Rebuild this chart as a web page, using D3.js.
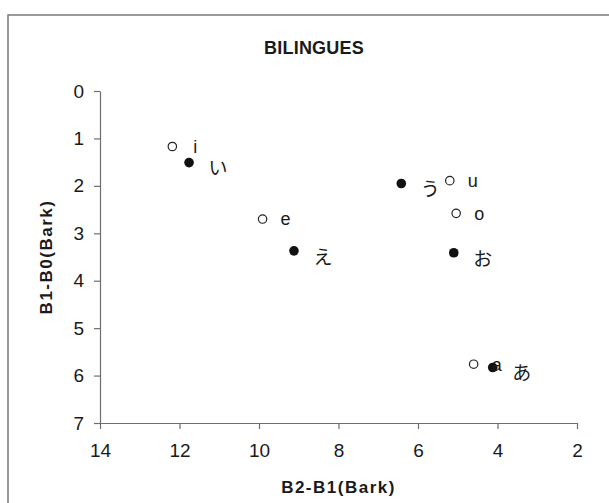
<!DOCTYPE html>
<html lang="ja">
    <head>
        <meta charset="UTF-8">
        <title>BILINGUES</title>
        <script src="https://cdn.jsdelivr.net/npm/d3@7"></script>
        <style>
            body { margin: 0; background: #fff; }
            text { font-family: Arial, "Liberation Sans", sans-serif; fill: #1a1a1a; }
            .kana { font-family: "Noto Sans CJK JP", sans-serif; }
        </style>
    </head>
    <body>
        <div id="chart"></div>
        <script>
// Data (x = B2-B1, y = B1-B0, both in Bark)
const openLabels = ["i", "e", "u", "o", "a"];
const openX = [12.18, 9.91, 5.20, 5.04, 4.60];
const openY = [1.17, 2.70, 1.89, 2.58, 5.76];

const filledLabels = ["い", "え", "う", "お", "あ"];
const filledX = [11.76, 9.12, 6.42, 5.10, 4.12];
const filledY = [1.51, 3.37, 1.95, 3.41, 5.83];

const xTicks = [14, 12, 10, 8, 6, 4, 2];
const yTicks = [0, 1, 2, 3, 4, 5, 6, 7];

const W = 609, H = 503;
const margin = {top: 91, right: 32, bottom: 80, left: 100};

const svg = d3.select("#chart").append("svg")
    .attr("width", W)
    .attr("height", H);

// outer frame (runs off the right and bottom edge in the scan)
svg.append("rect")
    .attr("x", 8).attr("y", 15)
    .attr("width", 640).attr("height", 540)
    .attr("fill", "none")
    .attr("stroke", "#7a7a7a")
    .attr("stroke-width", 1.5);

const x = d3.scaleLinear().domain([14, 2]).range([margin.left, W - margin.right]);
const y = d3.scaleLinear().domain([0, 7]).range([margin.top, H - margin.bottom]);

// title
svg.append("text")
    .attr("x", 314).attr("y", 54)
    .attr("text-anchor", "middle")
    .style("font-size", "18px")
    .style("font-weight", "bold")
    .style("letter-spacing", "0.2px")
    .text("BILINGUES");

// axes
const yAxis = svg.append("g")
    .attr("transform", `translate(${margin.left},0)`)
    .call(d3.axisLeft(y).tickValues(yTicks).tickFormat(d3.format("d"))
        .tickSize(6).tickPadding(10).tickSizeOuter(0));

const xAxis = svg.append("g")
    .attr("transform", `translate(0,${H - margin.bottom})`)
    .call(d3.axisBottom(x).tickValues(xTicks).tickFormat(d3.format("d"))
        .tickSize(6).tickPadding(15).tickSizeOuter(0));

[xAxis, yAxis].forEach(g => {
    g.select(".domain").attr("stroke", "#6e6e6e").attr("stroke-width", 1.2);
    g.selectAll(".tick line").attr("stroke", "#6e6e6e").attr("stroke-width", 1.2);
    g.selectAll(".tick text")
        .style("font-size", "19px")
        .style("font-family", "Arial, 'Liberation Sans', sans-serif")
        .attr("fill", "#1a1a1a");
});

// axis titles
svg.append("text")
    .attr("x", (margin.left + W - margin.right) / 2)
    .attr("y", 493)
    .attr("text-anchor", "middle")
    .style("font-size", "17px")
    .style("font-weight", "bold")
    .style("letter-spacing", "1.5px")
    .text("B2-B1(Bark)");

svg.append("text")
    .attr("transform", `translate(52,${(y(0) + y(7)) / 2}) rotate(-90)`)
    .attr("text-anchor", "middle")
    .style("font-size", "17px")
    .style("font-weight", "bold")
    .style("letter-spacing", "1.5px")
    .text("B1-B0(Bark)");

// open markers + latin labels
const openData = openLabels.map((l, i) => ({label: l, x: openX[i], y: openY[i]}));
const filledData = filledLabels.map((l, i) => ({label: l, x: filledX[i], y: filledY[i]}));

svg.selectAll(".open")
    .data(openData)
    .enter().append("circle")
    .attr("class", "open")
    .attr("cx", d => x(d.x))
    .attr("cy", d => y(d.y))
    .attr("r", 4.2)
    .attr("fill", "#fff")
    .attr("stroke", "#222")
    .attr("stroke-width", 1.2);

svg.selectAll(".filled")
    .data(filledData)
    .enter().append("circle")
    .attr("class", "filled")
    .attr("cx", d => x(d.x))
    .attr("cy", d => y(d.y))
    .attr("r", 4.8)
    .attr("fill", "#111");

svg.selectAll(".openLabel")
    .data(openData)
    .enter().append("text")
    .attr("class", "openLabel")
    .attr("x", d => x(d.x) + 23)
    .attr("y", d => y(d.y) + 1)
    .attr("dy", "0.3em")
    .attr("text-anchor", "middle")
    .style("font-size", "18px")
    .text(d => d.label);

svg.selectAll(".kanaLabel")
    .data(filledData)
    .enter().append("text")
    .attr("class", "kana kanaLabel")
    .attr("x", d => x(d.x) + 29)
    .attr("y", d => y(d.y) + 6)
    .attr("dy", "0.36em")
    .attr("text-anchor", "middle")
    .style("font-size", "19px")
    .text(d => d.label);
        </script>
    </body>
</html>
